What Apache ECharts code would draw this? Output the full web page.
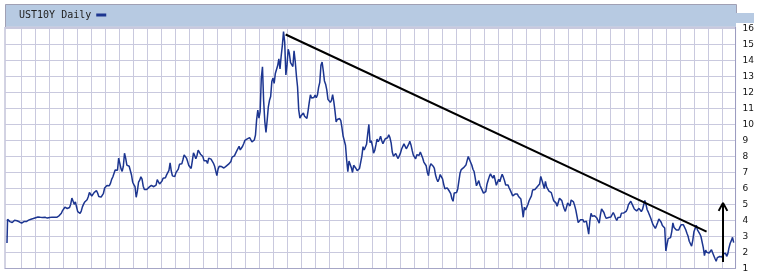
<!DOCTYPE html>
<html><head><meta charset="utf-8">
<script src="https://cdn.jsdelivr.net/npm/echarts@6/dist/echarts.min.js"></script>
<style>html,body{margin:0;padding:0;background:#fff}#c{width:757px;height:277px}</style>
</head><body><div id="c"></div><script>
// UST10Y daily (monthly resolution, spikes kept)
const startYear = 1962;
const openingPrint = 2.6;
const y1960s = [
 4.08,4.04,3.93,3.84,3.87,3.91,4.01,3.98,3.98,3.93,3.92,3.86,
 3.83,3.92,3.93,3.97,3.93,3.99,4.02,4.00,4.08,4.11,4.12,4.13,
 4.17,4.15,4.22,4.23,4.20,4.17,4.19,4.19,4.20,4.19,4.15,4.18,
 4.19,4.21,4.21,4.20,4.21,4.21,4.20,4.25,4.29,4.35,4.45,4.62,
 4.61,4.83,4.87,4.75,4.78,4.81,5.02,5.40,5.28,5.01,5.16,4.84,
 4.55,4.63,4.45,4.59,4.85,5.02,5.16,5.28,5.30,5.48,5.75,5.70,
 5.53,5.56,5.74,5.64,5.87,5.72,5.50,5.42,5.46,5.58,5.70,6.03,
 6.04,6.19,6.30,6.17,6.32,6.57,6.72,6.69,7.16,7.10,7.14,7.90
];
const y1970s = [
 7.95,7.24,7.07,7.39,8.20,7.90,7.46,7.53,7.39,7.33,6.84,6.39,
 6.24,6.11,5.45,5.83,6.39,6.52,6.73,6.58,6.14,5.93,5.81,5.93,
 5.95,6.08,6.07,6.19,6.13,6.11,6.11,6.21,6.55,6.48,6.28,6.36,
 6.46,6.64,6.71,6.67,6.85,6.90,7.13,7.60,7.09,6.79,6.73,6.74,
 6.99,6.96,7.21,7.51,7.58,7.54,7.81,8.10,8.04,7.90,7.68,7.43,
 7.50,7.25,7.73,8.23,8.06,7.86,8.06,8.40,8.50,8.14,8.05,8.00,
 7.74,7.79,7.73,7.56,7.90,7.86,7.83,7.77,7.59,7.41,7.29,6.80,
 7.21,7.39,7.46,7.37,7.46,7.28,7.33,7.40,7.34,7.52,7.58,7.69,
 7.96,8.03,8.04,8.15,8.35,8.46,8.64,8.41,8.42,8.64,8.81,9.01,
 9.10,9.10,9.12,9.18,9.25,8.91,8.95,9.03,9.33,10.30,10.90,10.39
];
const y1980s = [
 10.80,12.90,13.60,11.47,10.18,9.50,10.25,11.10,11.51,11.75,12.68,12.90,
 12.57,13.19,13.12,13.68,14.10,13.47,14.28,14.94,15.80,15.15,13.10,13.72,
 14.70,14.43,13.86,13.87,13.62,14.60,13.95,13.06,12.34,10.91,10.40,10.54,
 10.46,10.72,10.51,10.40,10.38,10.85,11.38,11.85,11.65,11.54,11.69,11.83,
 11.67,11.84,12.32,12.63,13.70,13.90,13.36,12.72,12.52,12.16,11.57,11.50,
 11.38,11.51,11.86,11.43,10.85,10.16,10.31,10.33,10.37,10.24,9.78,9.26,
 9.19,8.70,7.78,7.05,7.71,7.80,7.30,7.00,7.45,7.43,7.25,7.11,
 7.08,7.25,7.25,8.02,8.61,8.40,8.45,8.76,9.42,10.00,8.86,8.99,
 8.67,8.21,8.37,8.72,9.09,8.92,9.06,9.26,8.98,8.80,8.96,9.11,
 9.09,9.17,9.36,9.18,8.86,8.28,8.02,8.11,8.19,8.01,7.87,7.84
];
const y1990s = [
 8.21,8.47,8.59,8.79,8.76,8.48,8.47,8.75,8.95,8.72,8.39,8.08,
 8.09,7.85,8.11,8.04,8.07,8.28,8.27,7.90,7.65,7.53,7.42,7.00,
 6.80,7.34,7.54,7.48,7.39,7.26,6.84,6.59,6.42,6.59,6.87,6.77,
 6.60,6.26,5.98,5.97,6.04,5.96,5.81,5.68,5.36,5.20,5.72,5.77,
 5.75,5.97,6.48,6.97,7.18,7.10,7.30,7.24,7.46,7.74,8.00,7.81,
 7.78,7.47,7.20,7.06,6.63,6.17,6.28,6.49,6.20,6.04,5.93,5.71,
 5.65,5.81,6.27,6.51,6.74,6.91,6.87,6.64,6.83,6.53,6.20,6.30,
 6.58,6.42,6.69,6.89,6.71,6.49,6.22,6.30,6.21,6.03,5.88,5.81,
 5.54,5.57,5.65,5.64,5.65,5.50,5.46,5.34,4.81,4.20,4.83,4.65,
 4.72,5.00,5.23,5.18,5.54,5.90,5.79,5.94,5.92,6.11,6.03,6.28
];
const y2000s = [
 6.75,6.52,6.26,5.99,6.44,6.10,6.05,5.83,5.80,5.74,5.72,5.24,
 5.16,5.10,4.89,5.14,5.39,5.28,5.24,4.97,4.73,4.57,4.65,5.09,
 5.04,4.91,5.28,5.21,5.16,4.93,4.65,4.26,3.87,3.94,4.05,4.03,
 4.05,3.90,3.81,3.96,3.57,3.15,3.98,4.45,4.27,4.29,4.30,4.27,
 4.15,4.08,3.83,4.35,4.72,4.73,4.50,4.28,4.13,4.10,4.19,4.23,
 4.22,4.17,4.50,4.34,4.14,4.00,4.18,4.26,4.20,4.46,4.54,4.47,
 4.42,4.57,4.72,4.99,5.11,5.20,5.09,4.88,4.72,4.73,4.60,4.56,
 4.76,4.72,4.56,4.69,4.75,5.25,5.00,4.67,4.52,4.53,4.15,4.10,
 3.74,3.74,3.51,3.68,3.88,4.10,4.01,3.89,3.69,3.81,3.53,2.10,
 2.52,2.87,2.82,2.93,3.29,3.85,3.56,3.59,3.40,3.39,3.40,3.59
];
const y2010s = [
 3.73,3.69,3.73,3.85,3.42,3.20,3.01,2.70,2.65,2.40,2.76,3.29,
 3.39,3.70,3.41,3.46,3.17,3.00,3.00,2.30,1.80,2.15,2.01,1.98,
 1.97,1.97,2.17,2.05,1.80,1.62,1.45,1.68,1.72,1.75,1.65,1.72,
 1.91,1.98,1.96,1.76,1.93,2.30,2.58,2.74,2.95,2.62
];
const yTickLabels = ['1','2','3','4','5','6','7','8','9','10','11','12','13','14','15','16'];
const gridYears = [];
for (let y = 1963; y <= 2013; y++) gridYears.push(y);
const trendLine = [[1981.86, 15.62], [2011.86, 3.3]];
const arrowShaft = [[2013.03, 1.4], [2013.03, 5.1]];
const arrowHead = [[2012.72, 4.6], [2013.03, 5.1], [2013.34, 4.6]];

const monthly = [].concat(y1960s, y1970s, y1980s, y1990s, y2000s, y2010s);
const seriesData = [[startYear, openingPrint]].concat(
  monthly.map((v, i) => [startYear + (i + 0.5) / 12, v]));

const chart = echarts.init(document.getElementById('c'), null, {renderer: 'canvas'});
const gridColor = '#c9c9de';
const frameColor = '#a6a6c6';
chart.setOption({
  animation: false,
  backgroundColor: '#fff',
  grid: {left: 5, right: 21, top: 27, bottom: 8.5, show: true, borderColor: frameColor, borderWidth: 1, backgroundColor: '#fff'},
  legend: {
    data: ['UST10Y Daily'], left: 19, top: 10, padding: 0, align: 'right',
    icon: 'rect', itemWidth: 10, itemHeight: 3, z: 20,
    textStyle: {fontFamily: 'DejaVu Sans Mono', fontSize: 10, color: '#222'}
  },
  xAxis: {
    type: 'value', min: 1961.858, max: 2013.924,
    axisLine: {show: true, lineStyle: {color: frameColor}},
    axisTick: {show: false, customValues: gridYears},
    axisLabel: {show: false},
    splitLine: {show: true, lineStyle: {color: gridColor, width: 1}}
  },
  yAxis: {
    type: 'value', position: 'right', min: 1, max: 16.09, interval: 1,
    axisLine: {show: true, lineStyle: {color: '#9c9cc0'}},
    axisTick: {show: false},
    axisLabel: {margin: 7, fontFamily: 'DejaVu Sans', fontSize: 9, color: '#111',
      formatter: v => (Number.isInteger(v) ? yTickLabels[v - 1] : '')},
    splitLine: {show: true, lineStyle: {color: gridColor, width: 1}}
  },
  graphic: [
    {type: 'rect', z: 10, shape: {x: 5, y: 4.5, width: 731, height: 22}, style: {fill: '#b7cae2'}},
    {type: 'rect', z: 10, shape: {x: 736, y: 13, width: 18, height: 10}, style: {fill: '#b7cae2'}},
    {type: 'polyline', z: 11, shape: {points: [[5.5, 27], [5.5, 4.5], [736.5, 4.5], [736.5, 13]]}, style: {stroke: '#a0a0b4', fill: null, lineWidth: 1}}
  ],
  series: [
    {name: 'UST10Y Daily', type: 'line', data: seriesData, showSymbol: false, symbol: 'none',
     color: '#1c3590', lineStyle: {width: 1.5, color: '#1c3590'}, z: 3},
    {name: 'trend', type: 'line', data: trendLine, showSymbol: false, symbol: 'none',
     lineStyle: {width: 2, color: '#000'}, z: 4},
    {name: 'arrowShaft', type: 'line', data: arrowShaft, showSymbol: false, symbol: 'none',
     lineStyle: {width: 2, color: '#000'}, z: 4},
    {name: 'arrowHead', type: 'line', data: arrowHead, showSymbol: false, symbol: 'none',
     lineStyle: {width: 2, color: '#000'}, z: 4}
  ]
});
</script></body></html>
